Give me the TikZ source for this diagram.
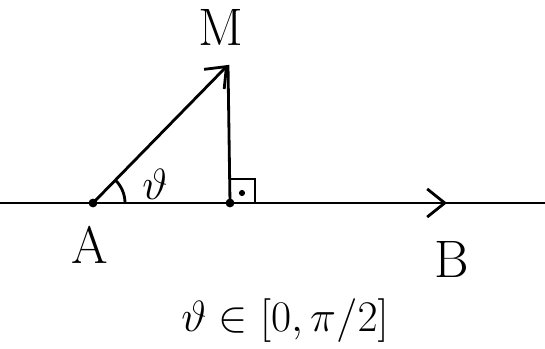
\documentclass[tikz,border=0pt]{standalone}
\usepackage{amsmath}
\usepackage{amssymb}
\usetikzlibrary{arrows.meta,calc}

\begin{document}
\begin{tikzpicture}[
        label/.style={
            font=\fontsize{30}{34}\selectfont,
            inner sep=1pt
        },
        formula/.style={
            font=\fontsize{25}{30}\selectfont,
            inner sep=1pt
        },
        pt/.style={
            circle,
            fill,
            inner sep=0pt,
            minimum size=5pt
        },
        line/.style={line width=1.6pt},
        arrow/.style={line width=1.6pt, -{Straight Barb[length=10pt,width=16pt]}}
    ]
        \useasboundingbox (0,0) rectangle (10.9,6.98);

        \coordinate (left) at (0,2.92);
        \coordinate (right) at (10.9,2.92);
        \node[pt] (a) at (1.86,2.92) {};
        \node[pt] (foot) at (4.60,2.92) {};
        \coordinate (m) at (4.56,5.68);
        \coordinate (b) at (8.94,2.92);

        \node[label] (alab) at (1.80,2.08) {A};
        \node[label] (blab) at (9.04,1.80) {B};
        \node[label] (mlab) at (4.42,6.44) {M};
        \node[formula] (theta) at (3.10,3.30) {$\vartheta$};
        \node[formula] (range) at (5.70,0.56) {$\vartheta\in[0,\pi/2]$};

        \draw[line] (left) -- (right);
        \draw[arrow] (a.center) -- (b);
        \draw[arrow] (a.center) -- (m);
        \draw[line] (foot.center) -- (m);
        \draw[line] ($(a.center)+(0:0.64)$) arc (0:45:0.64);
        \draw[line] (foot.center) ++(0,0.48) -- ++(0.5,0) -- ++(0,-0.48);
        \node[pt, minimum size=3.5pt] (rdot) at (4.84,3.12) {};
    \end{tikzpicture}
\end{document}
